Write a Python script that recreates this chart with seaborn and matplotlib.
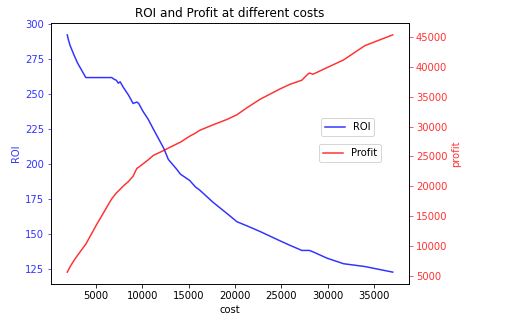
import matplotlib
matplotlib.use('Agg')
import matplotlib.pyplot as plt
import seaborn as sns
import pandas as pd

# values
cost = [1900, 2000, 2200, 2600, 3000, 3900, 5000, 6500, 6700, 6900,
        7200, 7400, 7600, 7900, 8500, 9000, 9400, 9600, 10100, 10600,
        11200, 12300, 12800, 13700, 14100, 15100, 15700, 16200, 17600, 19100,
        20200, 21300, 22700, 24800, 25900, 27200, 27700, 28000, 28400, 29900,
        31700, 34000, 37000]
roi = [292, 289, 284.5, 278, 272, 261.5, 261.5, 261.5, 261.5, 260.5,
       259.5, 257.5, 258.5, 255, 249, 243, 244, 243, 237, 232,
       224.5, 211, 203, 196, 192.5, 188, 183.5, 181, 172.5, 164.5,
       158.5, 155.5, 151.5, 145, 141.7, 138, 138, 138, 137, 132.5,
       128.5, 126.5, 122.5]
profit = [5600, 5900, 6500, 7500, 8400, 10300, 13400, 17400, 17900, 18300,
          18900, 19200, 19500, 20000, 20800, 21700, 23000, 23200, 23800, 24400,
          25200, 26000, 26400, 27100, 27400, 28400, 28900, 29400, 30300, 31200,
          32000, 33200, 34600, 36300, 37100, 37800, 38600, 39000, 38800, 39900,
          41200, 43600, 45400]

df = pd.DataFrame({'cost': cost, 'ROI': roi, 'profit': profit})

blue = (0, 0, 1, 0.8)
red = (1, 0, 0, 0.8)

fig = plt.figure(figsize=(510 / 72, 331 / 72), dpi=72)
ax1 = fig.add_axes([0.1, 0.142, 0.702, 0.7885])
ax2 = ax1.twinx()

sns.lineplot(data=df, x='cost', y='ROI', ax=ax1, color='b', alpha=0.8, label='ROI')
sns.lineplot(data=df, x='cost', y='profit', ax=ax2, color='r', alpha=0.8, label='Profit')

ax1.set_xlabel('cost')
ax1.set_ylabel('ROI', color=blue)
ax2.set_ylabel('profit', color=red)
ax1.tick_params(axis='y', colors=blue)
ax2.tick_params(axis='y', colors=red)
ax1.set_title('ROI and Profit at different costs')

ax1.legend(loc='lower left', bbox_to_anchor=(0.74, 0.547))
ax2.legend(loc='lower left', bbox_to_anchor=(0.735, 0.447))

fig.savefig('out.png', dpi=72, facecolor='white')
plt.close()
